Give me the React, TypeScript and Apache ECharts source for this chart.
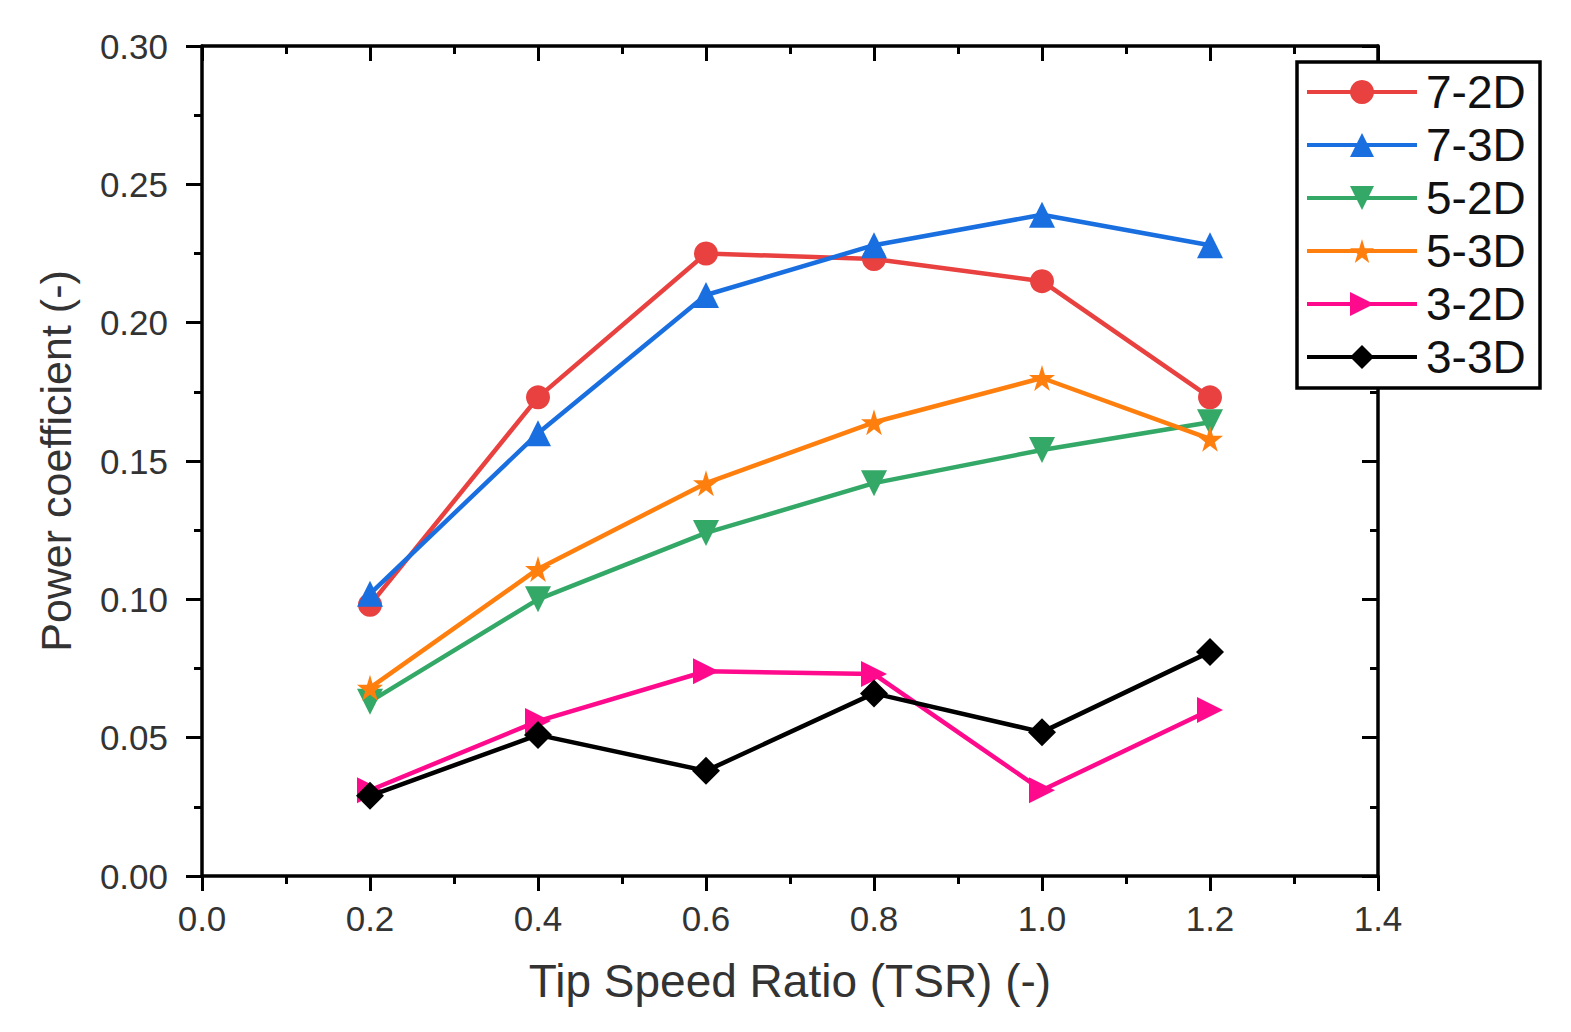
import { useEffect, useRef } from 'react'
import * as echarts from 'echarts'

const tsr = [0.2, 0.4, 0.6, 0.8, 1.0, 1.2]

const cp72D = [0.098, 0.173, 0.225, 0.223, 0.215, 0.173]
const cp73D = [0.102, 0.16, 0.21, 0.228, 0.239, 0.228]
const cp52D = [0.063, 0.1, 0.124, 0.142, 0.154, 0.164]
const cp53D = [0.068, 0.111, 0.142, 0.164, 0.18, 0.158]
const cp32D = [0.031, 0.056, 0.074, 0.073, 0.031, 0.06]
const cp33D = [0.029, 0.051, 0.038, 0.066, 0.052, 0.081]

const seriesNames = ['7-2D', '7-3D', '5-2D', '5-3D', '3-2D', '3-3D']

const STAR =
  'path://M50,0 L61,35 L98,35 L68,57 L79,91 L50,70 L21,91 L32,57 L2,35 L39,35 Z'

const FONT = 'Liberation Sans, Arial, sans-serif'

export default function App() {
  const chartRef = useRef<HTMLDivElement | null>(null)

  useEffect(() => {
    if (!chartRef.current) {
      return
    }
    document.body.style.margin = '0'

    const chart = echarts.init(chartRef.current, undefined, { renderer: 'svg' })

    const pair = (ys: number[]) => tsr.map((x, i) => [x, ys[i]])

    const styles = [
      { data: cp72D, color: '#e8413f', symbol: 'circle', size: 24, rotate: 0 },
      { data: cp73D, color: '#1a6fe0', symbol: 'triangle', size: 26, rotate: 0 },
      { data: cp52D, color: '#33a867', symbol: 'triangle', size: 26, rotate: 180 },
      { data: cp53D, color: '#ff7f0e', symbol: STAR, size: 26, rotate: 0 },
      { data: cp32D, color: '#ff0a8c', symbol: 'triangle', size: 26, rotate: -90 },
      { data: cp33D, color: '#000000', symbol: 'diamond', size: 28, rotate: 0 },
    ]

    const axisLine = { show: true, onZero: false, lineStyle: { color: '#000', width: 3.5 } }
    const tickStyle = { color: '#000', width: 3 }
    const label = { color: '#333', fontSize: 35, fontFamily: FONT }

    chart.setOption({
      animation: false,
      textStyle: { fontFamily: FONT },
      grid: { left: 202, top: 46, width: 1176, height: 830 },
      graphic: [
        {
          type: 'rect',
          z: 3,
          shape: { x: 1297, y: 62, width: 243, height: 326 },
          style: { fill: '#fff', stroke: '#000', lineWidth: 3.5 },
        },
      ],
      legend: {
        z: 5,
        orient: 'vertical',
        left: 1305,
        top: 69,
        padding: 0,
        itemGap: 7,
        itemWidth: 110,
        itemHeight: 30,
        data: seriesNames,
        lineStyle: { width: 4 },
        textStyle: { fontSize: 46, lineHeight: 46, color: '#111', fontFamily: FONT, padding: [0, 0, 0, 4] },
      },
      xAxis: [
        {
          type: 'value',
          min: 0,
          max: 1.4,
          interval: 0.2,
          position: 'bottom',
          name: 'Tip Speed Ratio (TSR) (-)',
          nameLocation: 'middle',
          nameGap: 82,
          nameTextStyle: { fontSize: 46, color: '#333', fontFamily: FONT },
          axisLine,
          axisTick: { show: true, inside: false, length: 15, lineStyle: tickStyle },
          minorTick: { show: true, splitNumber: 2, length: 8, lineStyle: tickStyle },
          splitLine: { show: false },
          axisLabel: { ...label, margin: 25, formatter: (v: number) => v.toFixed(1) },
        },
        {
          type: 'value',
          min: 0,
          max: 1.4,
          interval: 0.2,
          position: 'top',
          axisLine,
          axisTick: { show: true, inside: true, length: 15, lineStyle: tickStyle },
          minorTick: { show: true, splitNumber: 2, length: 8, lineStyle: tickStyle },
          splitLine: { show: false },
          axisLabel: { show: false },
        },
      ],
      yAxis: [
        {
          type: 'value',
          min: 0,
          max: 0.3,
          interval: 0.05,
          position: 'left',
          name: 'Power coefficient (-)',
          nameLocation: 'middle',
          nameGap: 125,
          nameTextStyle: { fontSize: 43, color: '#333', fontFamily: FONT },
          axisLine,
          axisTick: { show: true, inside: false, length: 16, lineStyle: tickStyle },
          minorTick: { show: true, splitNumber: 2, length: 8, lineStyle: tickStyle },
          splitLine: { show: false },
          axisLabel: { ...label, margin: 34, formatter: (v: number) => v.toFixed(2) },
        },
        {
          type: 'value',
          min: 0,
          max: 0.3,
          interval: 0.05,
          position: 'right',
          axisLine,
          axisTick: { show: true, inside: true, length: 16, lineStyle: tickStyle },
          minorTick: { show: true, splitNumber: 2, length: 8, lineStyle: tickStyle },
          splitLine: { show: false },
          axisLabel: { show: false },
        },
      ],
      series: styles.map((s, i) => ({
        name: seriesNames[i],
        type: 'line',
        xAxisIndex: 0,
        yAxisIndex: 0,
        data: pair(s.data),
        symbol: s.symbol,
        symbolSize: s.size,
        symbolRotate: s.rotate,
        showAllSymbol: true,
        lineStyle: { color: s.color, width: 4.5 },
        itemStyle: { color: s.color, borderWidth: 0 },
        z: 2 + i,
      })),
    })

    return () => {
      chart.dispose()
    }
  }, [])

  return <div ref={chartRef} style={{ width: 1571, height: 1032 }} />
}
